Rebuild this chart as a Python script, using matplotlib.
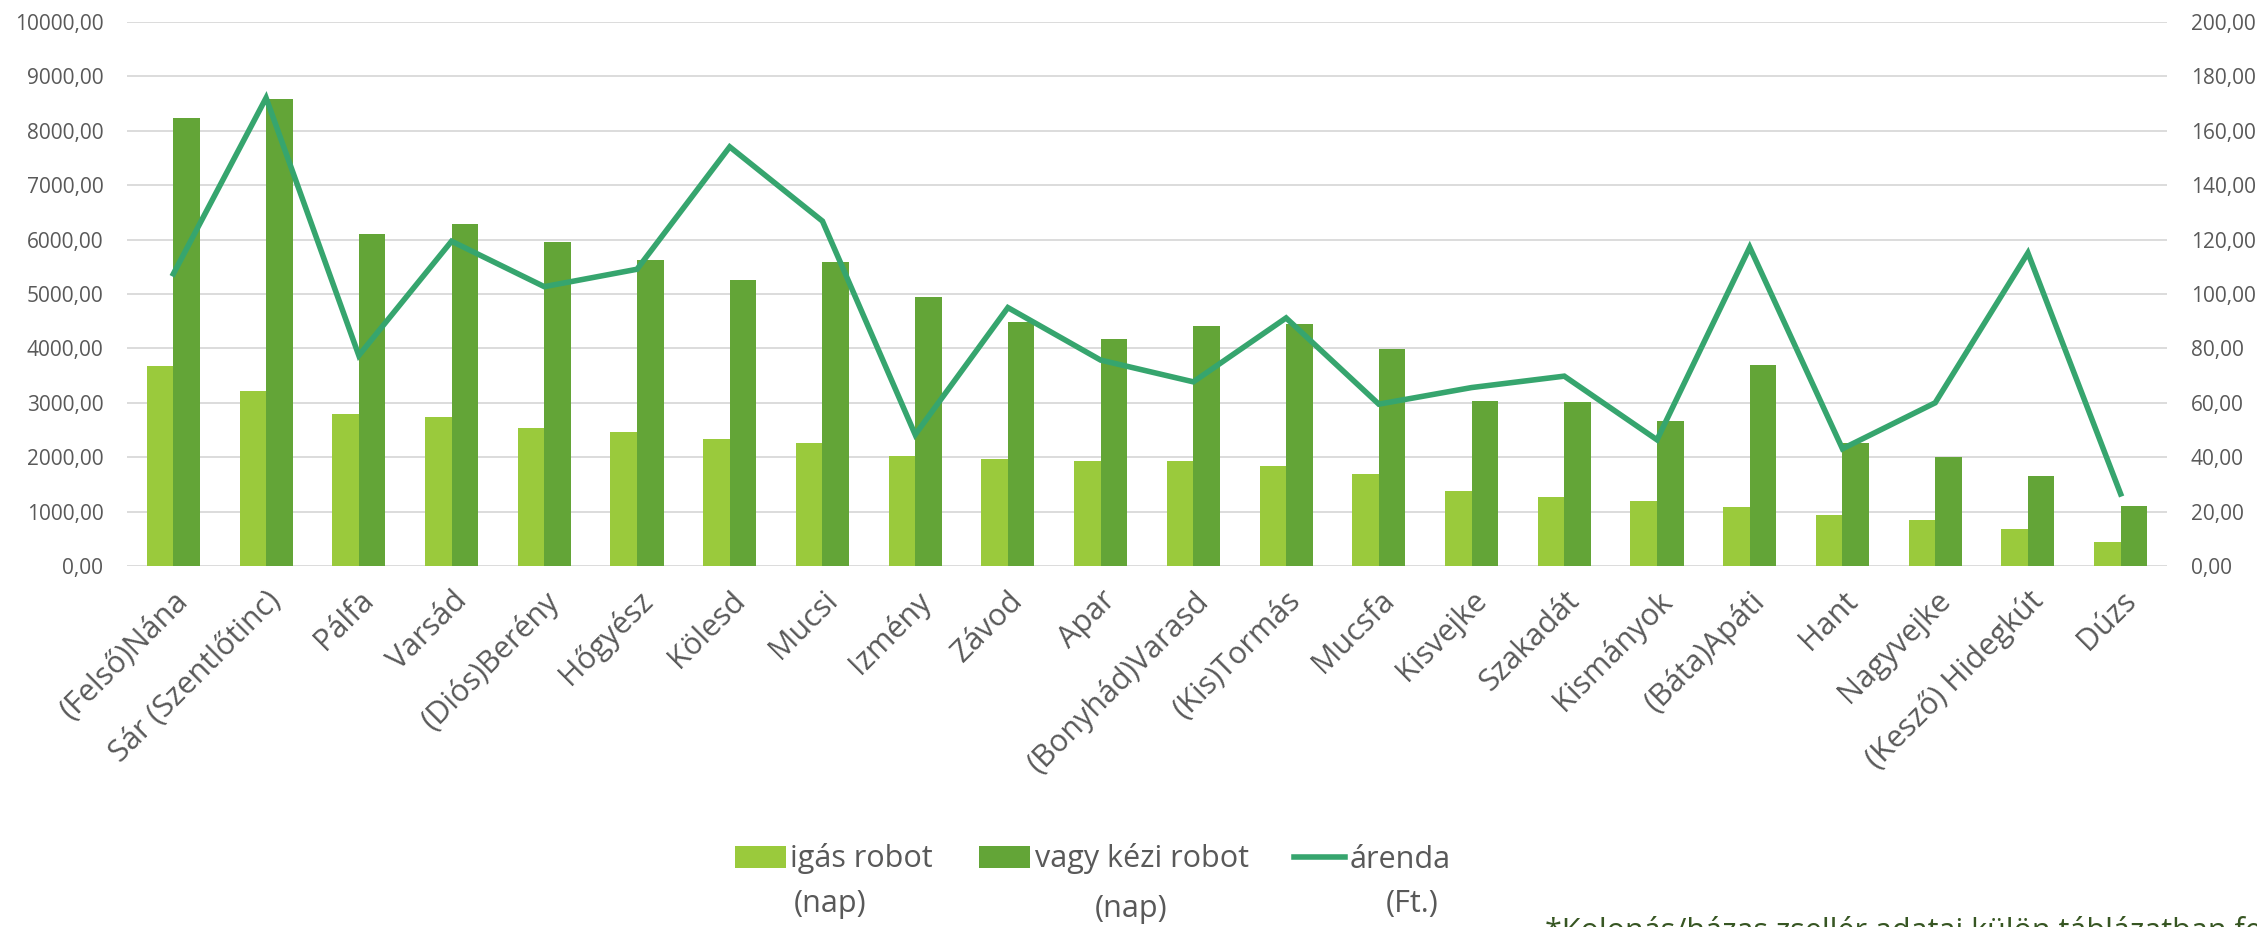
import matplotlib
matplotlib.use("Agg")
import matplotlib.pyplot as plt
from matplotlib.ticker import FuncFormatter, MultipleLocator
from matplotlib.patches import Patch
from matplotlib.lines import Line2D
import numpy as np

plt.rcParams['font.family'] = ['Open Sans', 'DejaVu Sans']

categories = ["(Felső)Nána", "Sár (Szentlőtinc)", "Pálfa", "Varsád", "(Diós)Berény",
              "Hőgyész", "Kölesd", "Mucsi", "Izmény", "Závod", "Apar",
              "(Bonyhád)Varasd", "(Kis)Tormás", "Mucsfa", "Kisvejke", "Szakadát",
              "Kismányok", "(Báta)Apáti", "Hant", "Nagyvejke", "(Kesző) Hidegkút", "Dúzs"]
igas_robot = [3670, 3210, 2800, 2730, 2530, 2460, 2340, 2260, 2030, 1960, 1930,
              1930, 1840, 1690, 1370, 1270, 1190, 1080, 930, 850, 680, 440]
kezi_robot = [8240, 8590, 6110, 6290, 5960, 5620, 5250, 5590, 4950, 4480, 4170,
              4420, 4450, 3980, 3030, 3010, 2670, 3700, 2270, 2000, 1650, 1100]
arenda = [107.4, 172.1, 77.4, 119.4, 102.7, 109.1, 154.1, 126.8, 48.3, 95.0, 75.7,
          67.7, 91.2, 59.5, 65.6, 69.8, 46.4, 117.2, 43.1, 60.0, 115.1, 26.5]
legend_first = ["igás robot", "vagy kézi robot", "árenda"]
legend_second = ["(nap)", "(nap)", "(Ft.)"]
footnote = "*Kolonás/házas zsellér adatai külön táblázatban fellelhetők"

C_LIGHT = "#9ACA3C"
C_DARK = "#63A537"
C_LINE = "#36A56E"
C_TEXT = "#595959"
C_GRID = "#D9D9D9"

W, H = 2257, 927
fig = plt.figure(figsize=(W / 100, H / 100), dpi=100)
ax = fig.add_axes([127 / W, 1 - 566 / H, (2167 - 127) / W, (566 - 22) / H])
ax2 = ax.twinx()

x = np.arange(len(categories))
bw = 0.286
ax.bar(x - bw / 2, igas_robot, width=bw, color=C_LIGHT, zorder=2)
ax.bar(x + bw / 2, kezi_robot, width=bw, color=C_DARK, zorder=2)
ax2.plot(x, arenda, color=C_LINE, linewidth=4.0, solid_joinstyle='miter', zorder=3)

ax.set_xlim(-0.5, len(categories) - 0.5)
ax.set_ylim(0, 10000)
ax2.set_ylim(0, 200)
ax.yaxis.set_major_locator(MultipleLocator(1000))
ax2.yaxis.set_major_locator(MultipleLocator(20))
fmt = FuncFormatter(lambda v, p: f"{v:.2f}".replace('.', ','))
ax.yaxis.set_major_formatter(fmt)
ax2.yaxis.set_major_formatter(fmt)

ax.grid(axis='y', color=C_GRID, linewidth=1.3, zorder=0)
ax.set_axisbelow(True)
for a in (ax, ax2):
    for s in a.spines.values():
        s.set_visible(False)
ax.tick_params(axis='y', length=0, pad=17, labelsize=15, labelcolor=C_TEXT)
ax2.tick_params(axis='y', length=0, pad=17, labelsize=15, labelcolor=C_TEXT)
ax.tick_params(axis='x', length=0, pad=14, labelsize=22, labelcolor=C_TEXT)
ax.set_xticks(x)
ax.set_xticklabels(categories, rotation=45, ha='right', rotation_mode='anchor')

handles = [Patch(facecolor=C_LIGHT), Patch(facecolor=C_DARK),
           Line2D([0], [0], color=C_LINE, linewidth=4.0)]
leg = fig.legend(handles, legend_first, loc='center', bbox_to_anchor=(1093 / W, 1 - 859 / H),
                 ncol=3, frameon=False, fontsize=22, handlelength=1.67, handleheight=0.7,
                 handletextpad=0.15, columnspacing=1.5, labelcolor=C_TEXT,
                 borderpad=0, borderaxespad=0)

second_x = [830, 1131, 1412]
second_y = [904, 909, 904]
for s, sx, sy in zip(legend_second, second_x, second_y):
    fig.text(sx / W, 1 - sy / H, s, ha='center', va='center', fontsize=22, color=C_TEXT)

fig.text(1545 / W, 1 - 940 / H, footnote, ha='left', va='baseline', fontsize=22, color="#375623")

fig.savefig("out.png", dpi=100)
